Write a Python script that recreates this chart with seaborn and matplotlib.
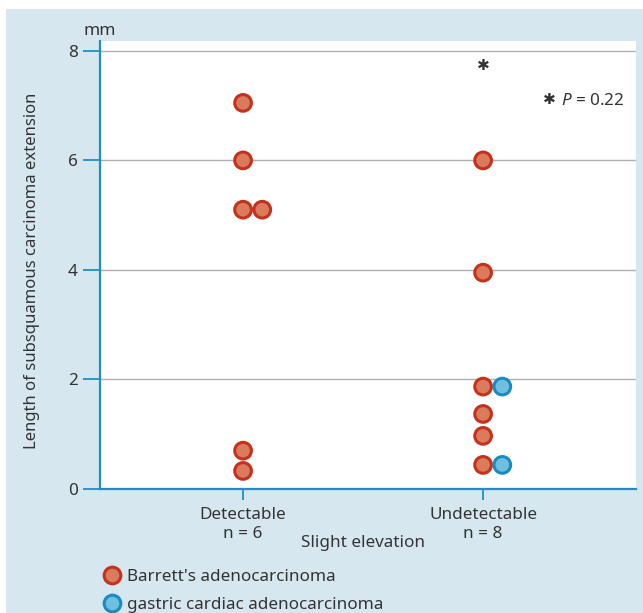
import numpy as np
import pandas as pd
import matplotlib
matplotlib.use("Agg")
import matplotlib.pyplot as plt
from matplotlib.patches import Rectangle
from matplotlib.lines import Line2D
import seaborn as sns

# data (mm)
categories = ["Detectable", "Undetectable"]
groups = ["Detectable"] * 6 + ["Undetectable"] * 8
lengths = [7.05, 6.0, 5.1, 5.1, 0.7, 0.33,
           6.0, 3.95, 1.87, 1.37, 0.97, 0.44, 1.87, 0.44]
tumour = (["Barrett's adenocarcinoma"] * 6
          + ["Barrett's adenocarcinoma"] * 6
          + ["gastric cardiac adenocarcinoma"] * 2)
# 0 = on the category line, 1 = set beside the point with the same value
slot = [0, 0, 0, 1, 0, 0,
        0, 0, 0, 0, 0, 0, 1, 1]
tick_labels = ["Detectable\nn = 6", "Undetectable\nn = 8"]
p_value = 0.22

bg = "#d7e7f0"
axis_blue = "#1f8fc2"
text_col = "#333333"
face = {"Barrett's adenocarcinoma": "#d97b5c",
        "gastric cardiac adenocarcinoma": "#6fbfe0"}
edge = {"Barrett's adenocarcinoma": "#c4321c",
        "gastric cardiac adenocarcinoma": "#1a8bc0"}
fs = 12.3
step = 0.08  # sideways shift of a tied point, in category units

sns.set_style("white")
plt.rcParams["font.family"] = ["Noto Sans", "DejaVu Sans"]
plt.rcParams["mathtext.fontset"] = "custom"
plt.rcParams["mathtext.it"] = "Noto Sans:italic"
plt.rcParams["mathtext.rm"] = "Noto Sans"

df = pd.DataFrame({"group": groups, "length": lengths, "type": tumour, "slot": slot})
df["x"] = df["group"].map({c: i for i, c in enumerate(categories)}) + df["slot"] * step

fig = plt.figure(figsize=(6.43, 6.13), dpi=100)
fig.patch.set_facecolor("white")
fig.patches.append(Rectangle((6 / 643, 0), 1, 1 - 9 / 613, transform=fig.transFigure,
                             facecolor=bg, edgecolor="none", zorder=-10))

ax = fig.add_axes([100 / 643, 124 / 613, 536 / 643, 448 / 613])
ax.set_facecolor("white")

sns.scatterplot(data=df, x="x", y="length", hue="type", palette=face, s=144,
                edgecolor=[edge[t] for t in df["type"]], linewidth=2.2,
                legend=False, ax=ax, zorder=3)

ax.set_xlim(-0.596, 1.637)
ax.set_ylim(0, 8.18)
ax.set_yticks([0, 2, 4, 6, 8])
ax.set_xticks(range(len(categories)))
ax.set_xticklabels(tick_labels, fontsize=fs, color=text_col, linespacing=1.25)
ax.tick_params(axis="y", colors=axis_blue, length=12, width=1.3, labelsize=fs,
               labelcolor=text_col, pad=4, left=True)
ax.tick_params(axis="x", colors=axis_blue, length=8, width=1.3, labelcolor=text_col,
               pad=5, bottom=True)
for y in [2, 4, 6, 8]:
    ax.axhline(y, color="#b0b0b0", lw=1, zorder=1)

for side in ["top", "right"]:
    ax.spines[side].set_visible(False)
for side in ["left", "bottom"]:
    ax.spines[side].set_color(axis_blue)
    ax.spines[side].set_linewidth(1.6)

ax.set_xlabel("")
ax.text(0.49, -54 / 448, "Slight elevation", transform=ax.transAxes, ha="center",
        va="center", fontsize=fs, color=text_col)
ax.set_ylabel("Length of subsquamous carcinoma extension", fontsize=12,
              color=text_col)
ax.yaxis.set_label_coords(-0.112, 0.4866)
ax.text(0.0, 1.005, "mm", transform=ax.transAxes, ha="center", va="bottom",
        fontsize=fs, color=text_col)

ax.text(1, 7.74, "✱", ha="center", va="center", fontsize=11, color=text_col,
        family="DejaVu Sans")
ax.text(1.59, 7.09, f"$\\mathit{{P}}$ = {p_value:.2f}", ha="right", va="center",
        fontsize=fs, color=text_col)
ax.text(1.277, 7.11, "✱", ha="center", va="center", fontsize=11, color=text_col,
        family="DejaVu Sans")

handles = [Line2D([], [], ls="none", marker="o", markersize=12,
                  markerfacecolor=face[k], markeredgecolor=edge[k],
                  markeredgewidth=2.2, label=k) for k in face]
fig.legend(handles=handles, loc="lower left", bbox_to_anchor=(91 / 643, -0.017),
           frameon=False, fontsize=fs, handletextpad=0.3, labelspacing=0.7,
           handlelength=1.2, borderaxespad=0.2, labelcolor=text_col)

fig.savefig("out.png", dpi=100, facecolor=fig.get_facecolor())
